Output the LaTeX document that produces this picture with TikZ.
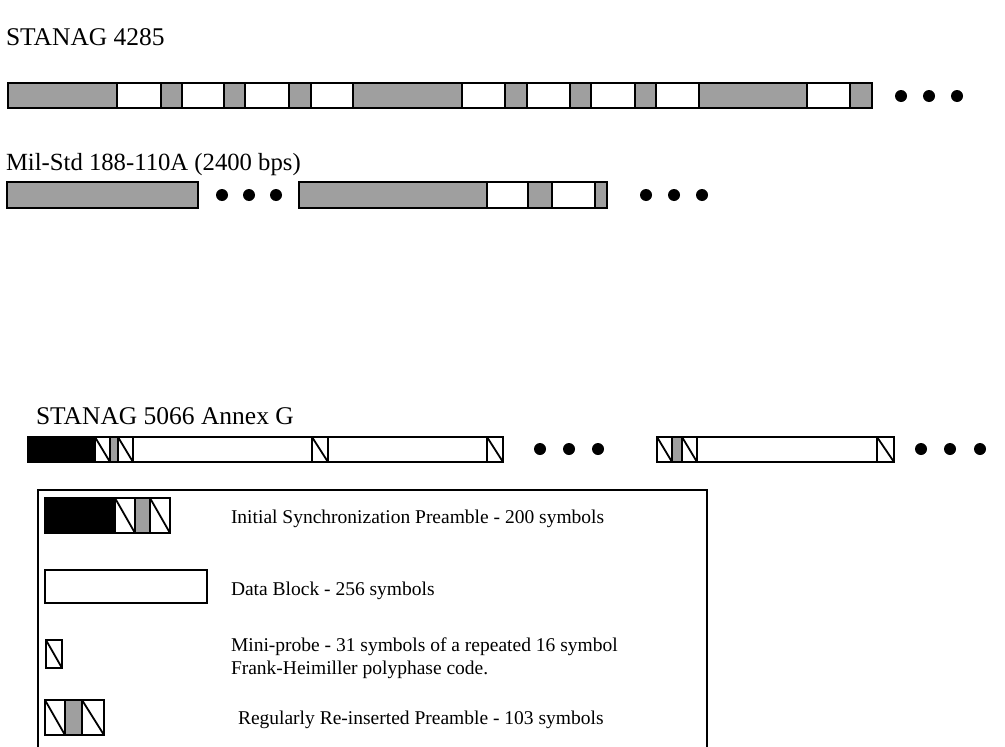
\documentclass[tikz,border=0pt]{standalone}
\usepackage{fontspec}
\setmainfont{Liberation Serif}
\begin{document}
\begin{tikzpicture}[x=1pt,y=-1pt,line width=2pt,
 bar/.style={draw,fill=white},
 prb/.style={draw,fill=gray!75},
 pre/.style={draw,fill=black},
 mp/.style={draw,fill=white,path picture={\draw[line width=1.8pt]
   (path picture bounding box.north west) -- (path picture bounding box.south east);}},
 ttl/.style={anchor=base west,inner sep=0pt,font=\fontsize{25.5}{30}\selectfont},
 lbl/.style={anchor=base west,inner sep=0pt,align=left,font=\fontsize{19.5}{23}\selectfont}]
\useasboundingbox (0,0) rectangle (1005,747);
% STANAG 4285: preamble and probes shaded, data blocks white.
\node[ttl] (t4285) at (5,45) {STANAG 4285};
\draw[bar] (8,83) rectangle (872,108);
\foreach \a/\b in {8/117,161/182,224/245,289/311,353/462,505/527,570/591,635/656,699/807,850/872}
  \draw[prb] (\a,83) rectangle (\b,108);
\foreach \x in {901,929,957} \fill (\x,96) circle (6pt);
% Mil-Std 188-110A.
\node[ttl,font=\fontsize{24.7}{30}\selectfont] (t188) at (5,170) {Mil-Std 188-110A (2400 bps)};
\draw[prb] (7,182) rectangle (198,208);
\foreach \x in {222,249,276} \fill (\x,195) circle (6pt);
\draw[prb] (299,182) rectangle (607,208);
\draw[bar] (487,182) rectangle (528,208);
\draw[bar] (552,182) rectangle (595,208);
\foreach \x in {646,674,702} \fill (\x,195) circle (6pt);
% STANAG 5066 Annex G: sync preamble, data blocks, mini-probes.
\node[ttl] (t5066) at (35,424) {STANAG 5066 Annex G};
\draw[pre] (28,437) rectangle (95,462);
\draw[prb] (110,437) rectangle (118,462);
\draw[bar] (133,437) rectangle (312,462);
\draw[bar] (328,437) rectangle (487,462);
\draw[prb] (672,437) rectangle (682,462);
\draw[bar] (697,437) rectangle (877,462);
\foreach \a/\b in {95/110,118/133,312/328,487/503,657/672,682/697,877/894}
  \draw[mp] (\a,437) rectangle (\b,462);
\foreach \x in {540,569,598,921,950,980} \fill (\x,449) circle (6pt);
% Legend box, open at the bottom.
\draw[line width=1.4pt] (38,747) -- (38,490) -- (707,490) -- (707,747);
\draw[pre] (45,498) rectangle (115,533);
\draw[mp] (115,498) rectangle (135,533);
\draw[prb] (135,498) rectangle (150,533);
\draw[mp] (150,498) rectangle (170,533);
\node[lbl] (l1) at (230,523) {Initial Synchronization Preamble - 200 symbols};
\draw[bar] (45,570) rectangle (207,603);
\node[lbl] (l2) at (230,595) {Data Block - 256 symbols};
\draw[mp] (46,640) rectangle (62,668);
\node[lbl] (l3) at (230,674) {Mini-probe - 31 symbols of a repeated 16 symbol\\Frank-Heimiller polyphase code.};
\draw[mp] (45,700) rectangle (65,735);
\draw[prb] (65,700) rectangle (82,735);
\draw[mp] (82,700) rectangle (104,735);
\node[lbl] (l4) at (237,724) {Regularly Re-inserted Preamble - 103 symbols};
\end{tikzpicture}
\end{document}
